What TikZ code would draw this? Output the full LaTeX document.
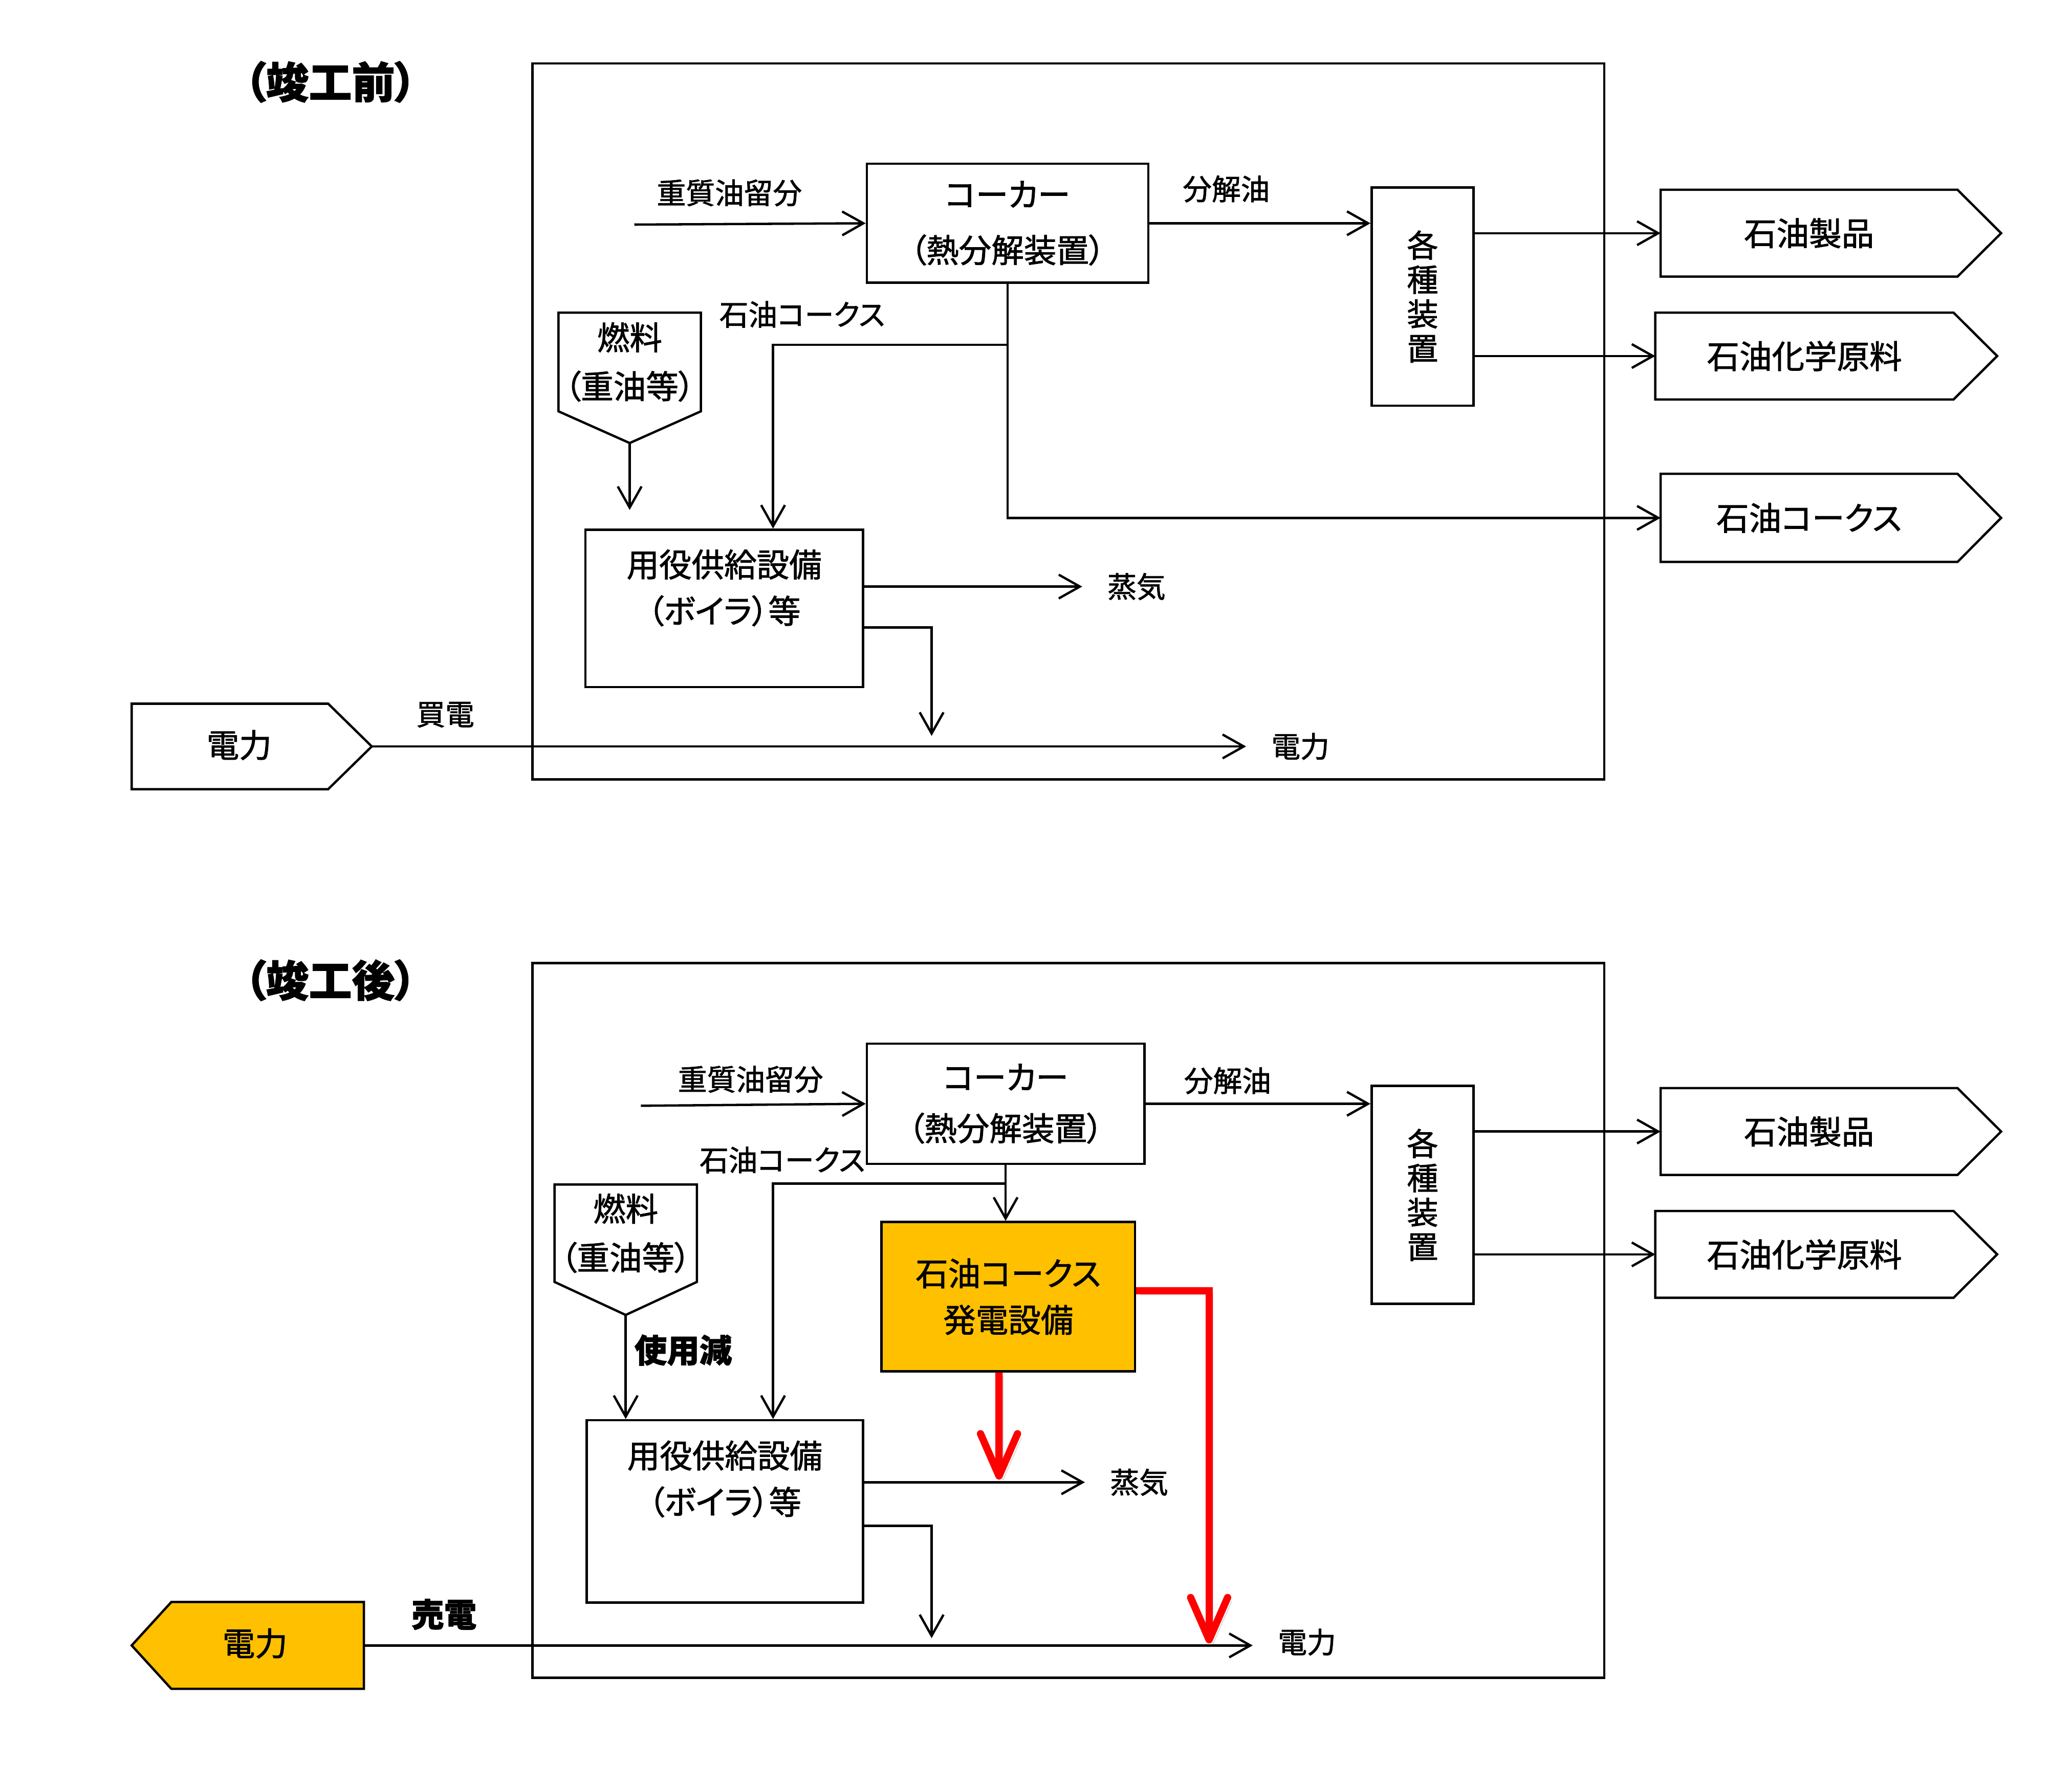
\documentclass[tikz,border=0pt]{standalone}
\usepackage{fontspec}
\newfontfamily\jp[RawFeature=+palt, FakeBold=1.5]{Noto Sans CJK JP}
\usetikzlibrary{arrows.meta,calc}
\definecolor{gold}{HTML}{FFC000}
\tikzset{>={Straight Barb[length=3.2mm,width=3.6mm]}}
\tikzset{
  box/.style={draw, line width=1pt, inner sep=0pt},
  lbl/.style={font=\jp\fontsize{12.5}{15}\selectfont, inner sep=1pt},
  txt/.style={font=\jp\fontsize{14}{20}\selectfont, align=center, inner sep=0pt},
  vtxt/.style={font=\jp\fontsize{13.5}{14.8}\selectfont, align=center, inner sep=0pt},
  ttl/.style={font=\jp\bfseries\fontsize{18.5}{22}\selectfont},
  bold/.style={font=\jp\bfseries\fontsize{14}{17}\selectfont, inner sep=1pt},
  flow/.style={->, line width=1pt},
  redflow/.style={draw=red, line width=1.1mm, -{Straight Barb[length=6.4mm,width=5.6mm,round]},
    preaction={draw=black!15, transform canvas={xshift=0.6mm,yshift=-0.6mm}}},
}

\begin{document}
\begin{tikzpicture}[x=0.2mm, y=-0.2mm]
\useasboundingbox (0,0) rectangle (1568,1336);

% ---------- before ----------
\node[ttl] (titleA) at (250,62) {（竣工前）};
\draw[line width=1pt] (403,48) rectangle (1214,590);

\node[box, txt, minimum width=42.6mm, minimum height=18mm] (cokerA) at (762.5,169) {コーカー\\[4pt]（熱分解装置）};
\node[box, vtxt, minimum width=15.4mm, minimum height=33mm] (unitsA) at (1076.5,224.5) {各\\種\\装\\置};

% products
\node[txt, minimum width=44.8mm, minimum height=13mm] (prodA) at (1369,176.5) {石油製品};
\draw[line width=1pt] (prodA.north west) -- (prodA.north east) -- ([xshift=6.6mm]prodA.east) -- (prodA.south east) -- (prodA.south west) -- cycle;
\node[txt, minimum width=45mm, minimum height=13mm] (chemA) at (1365.5,269.5) {石油化学原料};
\draw[line width=1pt] (chemA.north west) -- (chemA.north east) -- ([xshift=6.6mm]chemA.east) -- (chemA.south east) -- (chemA.south west) -- cycle;
\node[txt, minimum width=44.8mm, minimum height=13.2mm] (cokeA) at (1369,392) {石油コークス};
\draw[line width=1pt] (cokeA.north west) -- (cokeA.north east) -- ([xshift=6.6mm]cokeA.east) -- (cokeA.south east) -- (cokeA.south west) -- cycle;

% fuel
\node[txt, minimum width=21.4mm, minimum height=14.8mm] (fuelA) at (476.5,274) {燃料\\[1pt]（重油等）};
\draw[line width=1pt] (fuelA.south west) -- (fuelA.north west) -- (fuelA.north east) -- (fuelA.south east) -- ([yshift=-4.8mm]fuelA.south) -- cycle;
\coordinate (fuelAtip) at ([yshift=-4.8mm]fuelA.south);
\coordinate (fuelAend) at (476.5,386);

% boiler
\node[box, minimum width=42mm, minimum height=23.8mm] (boilerA) at (548,460.5) {};
\node[txt] (boilerAtxt) at (548,445) {用役供給設備\\（ボイラ）等};

% power in
\node[minimum width=29.6mm, minimum height=12.8mm, inner sep=0pt] (powA) at (174,565) {};
\draw[line width=1pt] (powA.north west) -- (powA.north east) -- ([xshift=6.6mm]powA.east) -- (powA.south east) -- (powA.south west) -- cycle;
\node[txt] (powAtxt) at (181,564) {電力};
\coordinate (powAtip) at ([xshift=6.6mm]powA.east);

% labels
\node[lbl] (hvyA) at (552,146) {重質油留分};
\node[lbl] (crackA) at (928,143) {分解油};
\node[lbl] (cokeAlbl) at (607,238) {石油コークス};
\node[lbl, anchor=west] (steamA) at (836,444) {蒸気};
\node[lbl, anchor=west] (elecA) at (960,565) {電力};
\node[lbl] (buyA) at (337,541) {買電};

% flows
\coordinate (hvyAin) at (480,170);
\coordinate (cokeAj) at (762.5,261);
\coordinate (pwrAdrop) at (705,557);
\draw[flow] (hvyAin) -- (cokerA.west);
\draw[flow] (cokerA.east) -- (cokerA.east -| unitsA.west);
\draw[flow] (unitsA.east |- prodA.west) -- (prodA.west);
\draw[flow] (unitsA.east |- chemA.west) -- (chemA.west);
\draw[flow] (cokerA.south) |- (cokeA.west);
\draw[flow] (cokeAj) -| ([xshift=7.4mm]boilerA.north);
\draw[flow] (fuelAtip) -- (fuelAend);
\draw[flow, shorten >=3.4mm] (boilerA.east |- steamA.west) -- (steamA.west);
\draw[flow] ([yshift=-2.9mm]boilerA.east) -| (pwrAdrop);
\draw[flow, shorten >=3.4mm] (powAtip) -- (powAtip -| elecA.west);

% ---------- after ----------
\node[ttl] (titleB) at (250,742) {（竣工後）};
\draw[line width=1pt] (403,729) rectangle (1214,1270);

\node[box, txt, minimum width=42mm, minimum height=18.2mm] (cokerB) at (761,835.5) {コーカー\\[2pt]（熱分解装置）};
\node[box, vtxt, minimum width=15.4mm, minimum height=33mm] (unitsB) at (1076.5,904.5) {各\\種\\装\\置};

\node[txt, minimum width=44.8mm, minimum height=13mm] (prodB) at (1369,856.5) {石油製品};
\draw[line width=1pt] (prodB.north west) -- (prodB.north east) -- ([xshift=6.6mm]prodB.east) -- (prodB.south east) -- (prodB.south west) -- cycle;
\node[txt, minimum width=45mm, minimum height=13mm] (chemB) at (1365.5,949.5) {石油化学原料};
\draw[line width=1pt] (chemB.north west) -- (chemB.north east) -- ([xshift=6.6mm]chemB.east) -- (chemB.south east) -- (chemB.south west) -- cycle;

\node[box, txt, fill=gold, minimum width=38.4mm, minimum height=22.6mm] (genB) at (763,981.5) {石油コークス\\発電設備};

\node[txt, minimum width=21.4mm, minimum height=14.6mm] (fuelB) at (473.5,933.5) {燃料\\[1pt]（重油等）};
\draw[line width=1pt] (fuelB.south west) -- (fuelB.north west) -- (fuelB.north east) -- (fuelB.south east) -- ([yshift=-5mm]fuelB.south) -- cycle;
\coordinate (fuelBtip) at ([yshift=-5mm]fuelB.south);

\node[box, minimum width=41.8mm, minimum height=27.6mm] (boilerB) at (548.5,1144) {};
\node[txt] (boilerBtxt) at (548.5,1119.5) {用役供給設備\\（ボイラ）等};

% power out
\node[minimum width=29mm, minimum height=13mm, inner sep=0pt] (sellB) at (202.5,1245.5) {};
\draw[line width=1pt, fill=gold] (sellB.north east) -- (sellB.north west) -- ([xshift=-6mm]sellB.west) -- (sellB.south west) -- (sellB.south east) -- cycle;
\node[txt] (sellBtxt) at (193,1244) {電力};

\node[lbl] (hvyB) at (568,817) {重質油留分};
\node[lbl] (crackB) at (929,818) {分解油};
\node[lbl] (cokeBlbl) at (592,878) {石油コークス};
\node[bold] (lessB) at (517,1022) {使用減};
\node[lbl, anchor=west] (steamB) at (838,1122) {蒸気};
\node[lbl, anchor=west] (elecB) at (965,1243) {電力};
\node[bold] (sellBlbl) at (336,1222) {売電};

\coordinate (hvyBin) at (485,837);
\coordinate (cokeBj) at (761,896);
\coordinate (pwrBdrop) at (705,1240);
\coordinate (redAend) at (756,1120);
\coordinate (redBend) at (915,1244);
\draw[flow] (hvyBin) -- (cokerB.west);
\draw[flow] (cokerB.east) -- (cokerB.east -| unitsB.west);
\draw[flow] (unitsB.east |- prodB.west) -- (prodB.west);
\draw[flow] (unitsB.east |- chemB.west) -- (chemB.west);
\draw[flow] (cokerB.south) -- (cokerB.south |- genB.north);
\draw[flow] (cokeBj) -| ([xshift=7.3mm]boilerB.north);
\draw[flow] (fuelBtip) -- (fuelBtip |- boilerB.north);
\draw[flow, shorten >=3.4mm] (boilerB.east |- steamB.west) -- (steamB.west);
\draw[flow] ([yshift=-2.2mm]boilerB.east) -| (pwrBdrop);
\draw[flow, shorten >=3.4mm] (sellB.east) -- (sellB.east -| elecB.west);
\draw[redflow] ([xshift=-1.4mm]genB.south) -- (redAend);
\draw[redflow] ([yshift=0.9mm]genB.east) -| (redBend);

\end{tikzpicture}
\end{document}
